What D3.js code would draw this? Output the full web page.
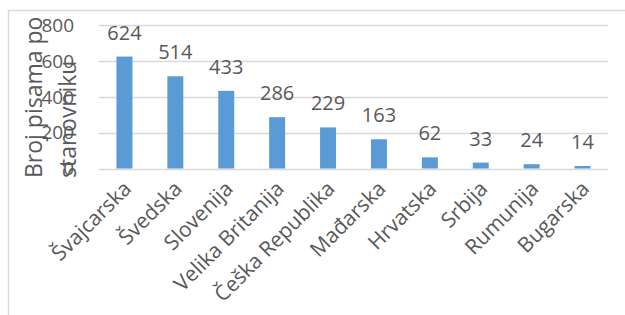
<!DOCTYPE html>
<html><head><meta charset="utf-8">
<script src="https://cdn.jsdelivr.net/npm/d3@7"></script>
<style>body{margin:0;background:#fff}svg{display:block}text{font-family:"Open Sans",sans-serif;fill:#595959}</style>
</head><body><svg width="625" height="315"></svg>
<script>
const categories = ["Švajcarska","Švedska","Slovenija","Velika Britanija","Češka Republika","Mađarska","Hrvatska","Srbija","Rumunija","Bugarska"];
const values = [624,514,433,286,229,163,62,33,24,14];
const yTicks = [0,200,400,600,800];
const yTitle = ["Broj pisama po","stanovniku"];

const svg = d3.select("svg");
svg.append("rect").attr("x",8.5).attr("y",10.5).attr("width",640).attr("height",330)
  .attr("fill","none").attr("stroke","#d9d9d9").attr("stroke-width",1.5);

const x = d3.scaleBand().domain(categories).range([99,608]).paddingInner(0.686).paddingOuter(0.343);
const y = d3.scaleLinear().domain([0,800]).range([168.5,25]);

const g = svg.append("g");
g.selectAll("line.grid").data(yTicks).join("line").attr("class","grid")
  .attr("x1",99).attr("x2",608).attr("y1",d=>Math.round(y(d))+0.5).attr("y2",d=>Math.round(y(d))+0.5)
  .attr("stroke","#d9d9d9").attr("stroke-width",1.3);

g.selectAll("text.yt").data(yTicks).join("text").attr("class","yt")
  .attr("x",74).attr("y",d=>y(d)).attr("dy","0.36em").attr("text-anchor","end")
  .style("font-size","19px").text(d=>d);

g.selectAll("rect.bar").data(values).join("rect").attr("class","bar")
  .attr("x",(d,i)=>x(categories[i])).attr("width",x.bandwidth())
  .attr("y",d=>y(d)).attr("height",d=>y(0)-y(d)).attr("fill","#5b9bd5");

g.selectAll("text.vl").data(values).join("text").attr("class","vl")
  .attr("x",(d,i)=>x(categories[i])+x.bandwidth()/2).attr("y",d=>y(d)-17)
  .attr("text-anchor","middle").style("font-size","20px").text(d=>d);

g.selectAll("text.xl").data(categories).join("text").attr("class","xl")
  .attr("transform",d=>`translate(${x(d)+x.bandwidth()/2+8},190) rotate(-45)`)
  .attr("text-anchor","end").style("font-size","21px").text(d=>d);

const tg = svg.append("g").attr("transform","translate(0,178) rotate(-90)");
tg.selectAll("text").data(yTitle).join("text")
  .attr("x",0).attr("y",(d,i)=>[42,76][i]).attr("text-anchor","start")
  .style("font-size","23px").text(d=>d);
</script></body></html>
